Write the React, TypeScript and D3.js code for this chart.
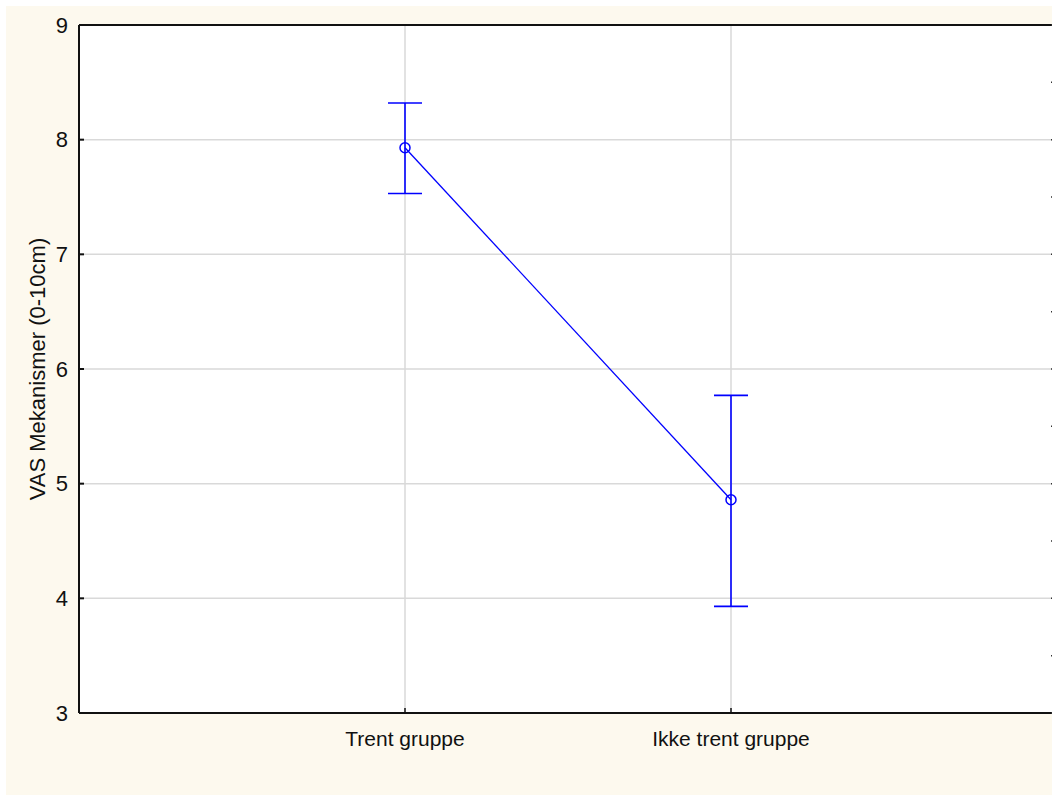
import React from 'react';
import * as d3 from 'd3';

const groups = ['Trent gruppe', 'Ikke trent gruppe'];
const means = [7.93, 4.86];
const upper = [8.32, 5.77];
const lower = [7.53, 3.93];
const yTicks = [3, 4, 5, 6, 7, 8, 9];

export default function App() {
  const width = 1052;
  const height = 796;
  const left = 79;
  const right = 1057;
  const top = 25;
  const bottom = 713;
  const font = 'Arial, "Liberation Sans", sans-serif';
  const blue = '#0000ff';

  const x = d3.scalePoint().domain(groups).range([left, right]).padding(1);
  const y = d3.scaleLinear().domain([3, 9]).range([bottom, top]);
  const halfTicks = d3.range(3, 9.01, 0.5);

  const line = d3
    .line<number>()
    .x((d, i) => x(groups[i]) as number)
    .y((d) => y(d));

  return (
    <svg
      width={width}
      height={height}
      style={{ position: 'absolute', left: 0, top: 0 }}
    >
      <rect x={6} y={6} width={width - 6} height={height - 7} fill="#fdf9ee" />
      <rect x={left} y={top} width={right - left} height={bottom - top} fill="#ffffff" />

      {/* grid */}
      {yTicks.slice(1, -1).map((t) => (
        <line key={t} x1={left} x2={right} y1={y(t)} y2={y(t)} stroke="#d9d9d9" strokeWidth={1.5} />
      ))}
      {groups.map((g) => (
        <line key={g} x1={x(g)} x2={x(g)} y1={top} y2={bottom} stroke="#d9d9d9" strokeWidth={1.5} />
      ))}

      {/* frame */}
      <line x1={left} x2={right} y1={top} y2={top} stroke="#111" strokeWidth={2} />
      <line x1={left} x2={right} y1={bottom} y2={bottom} stroke="#111" strokeWidth={2} />
      <line x1={left} x2={left} y1={top} y2={bottom} stroke="#111" strokeWidth={2} />

      {/* left ticks */}
      {yTicks.map((t) => (
        <g key={t}>
          <line x1={left} x2={left + 5} y1={y(t)} y2={y(t)} stroke="#111" strokeWidth={2} />
          <text
            x={68}
            y={y(t)}
            textAnchor="end"
            dominantBaseline="central"
            fontFamily={font}
            fontSize={22}
            fill="#111"
          >
            {t}
          </text>
        </g>
      ))}
      {/* right ticks */}
      {halfTicks.map((t) => (
        <line key={t} x1={right - 6} x2={right} y1={y(t)} y2={y(t)} stroke="#333" strokeWidth={1.5} />
      ))}

      {/* x ticks and labels */}
      {groups.map((g) => (
        <g key={g}>
          <line x1={x(g)} x2={x(g)} y1={bottom} y2={bottom - 5} stroke="#111" strokeWidth={1.5} />
          <text
            x={x(g)}
            y={746}
            textAnchor="middle"
            fontFamily={font}
            fontSize={21}
            fill="#111"
          >
            {g}
          </text>
        </g>
      ))}

      <text
        transform={`translate(45, 369) rotate(-90)`}
        textAnchor="middle"
        fontFamily={font}
        fontSize={22}
        fill="#111"
      >
        VAS Mekanismer (0-10cm)
      </text>

      {/* error bars */}
      {groups.map((g, i) => {
        const cx = x(g) as number;
        return (
          <g key={g} stroke={blue} strokeWidth={1.6} fill="none">
            <line x1={cx} x2={cx} y1={y(upper[i])} y2={y(lower[i])} />
            <line x1={cx - 17} x2={cx + 17} y1={y(upper[i])} y2={y(upper[i])} />
            <line x1={cx - 17} x2={cx + 17} y1={y(lower[i])} y2={y(lower[i])} />
          </g>
        );
      })}

      <path d={line(means) || ''} fill="none" stroke={blue} strokeWidth={1.3} />
      {groups.map((g, i) => (
        <circle key={g} cx={x(g)} cy={y(means[i])} r={5} fill="none" stroke={blue} strokeWidth={1.5} />
      ))}
    </svg>
  );
}
